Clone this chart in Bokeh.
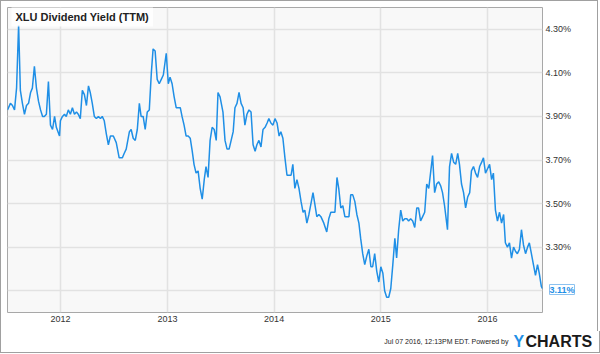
from datetime import datetime
import pandas as pd
from bokeh.plotting import figure
from bokeh.layouts import column
from bokeh.models import (ColumnDataSource, Range1d, FixedTicker, PrintfTickFormatter,
                          DatetimeTickFormatter, Label)
from bokeh.embed import file_html
from bokeh.resources import INLINE

title_text = "XLU Dividend Yield (TTM)"
last_label = "3.11%"
footer_text = "Jul 07 2016, 12:13PM EDT. Powered by"

dates = [
    "2011-07-04", "2011-07-14", "2011-07-21", "2011-07-28", "2011-08-04", "2011-08-11", "2011-08-17",
    "2011-08-24", "2011-08-31", "2011-09-07", "2011-09-14", "2011-09-21", "2011-09-27", "2011-10-04",
    "2011-10-11", "2011-10-18", "2011-10-25", "2011-11-01", "2011-11-07", "2011-11-14", "2011-11-21",
    "2011-11-28", "2011-12-05", "2011-12-12", "2011-12-18", "2011-12-29",
    "2012-01-01", "2012-01-08", "2012-01-15", "2012-01-21", "2012-01-28", "2012-02-04", "2012-02-11",
    "2012-02-18", "2012-02-25", "2012-03-02", "2012-03-09", "2012-03-16", "2012-03-23", "2012-03-30",
    "2012-04-06", "2012-04-12", "2012-04-19", "2012-04-26", "2012-05-03", "2012-05-10", "2012-05-17",
    "2012-05-23", "2012-05-30", "2012-06-06", "2012-06-13", "2012-06-20", "2012-06-30", "2012-07-10",
    "2012-07-20", "2012-07-31", "2012-08-06", "2012-08-13", "2012-08-24", "2012-08-30", "2012-09-06",
    "2012-09-13", "2012-09-20", "2012-09-27", "2012-10-03", "2012-10-10", "2012-10-17", "2012-10-24",
    "2012-10-31", "2012-11-07", "2012-11-13", "2012-11-20", "2012-11-27", "2012-12-04", "2012-12-11",
    "2012-12-18", "2012-12-28",
    "2013-01-04", "2013-01-10", "2013-01-17", "2013-01-24", "2013-01-31", "2013-02-07", "2013-02-14",
    "2013-02-20", "2013-02-27", "2013-03-06", "2013-03-13", "2013-03-20", "2013-03-27", "2013-04-02",
    "2013-04-09", "2013-04-16", "2013-04-23", "2013-04-30", "2013-05-07", "2013-05-13", "2013-05-20",
    "2013-05-27", "2013-06-03", "2013-06-10", "2013-06-17", "2013-06-23", "2013-06-30", "2013-07-10",
    "2013-07-17", "2013-07-24", "2013-07-31", "2013-08-07", "2013-08-14", "2013-08-20", "2013-08-27",
    "2013-09-03", "2013-09-10", "2013-09-17", "2013-09-23", "2013-09-30", "2013-10-07", "2013-10-14",
    "2013-10-21", "2013-10-28", "2013-11-03", "2013-11-10", "2013-11-17", "2013-11-24", "2013-12-01",
    "2013-12-08", "2013-12-14", "2013-12-21", "2013-12-28",
    "2014-01-04", "2014-01-11", "2014-01-18", "2014-01-24", "2014-01-31", "2014-02-07", "2014-02-14",
    "2014-02-21", "2014-02-28", "2014-03-06", "2014-03-13", "2014-03-20", "2014-03-27", "2014-04-03",
    "2014-04-10", "2014-04-16", "2014-04-23", "2014-04-30", "2014-05-07", "2014-05-14", "2014-05-20",
    "2014-05-27", "2014-06-03", "2014-06-10", "2014-06-20", "2014-06-30", "2014-07-07", "2014-07-14",
    "2014-07-21", "2014-07-28", "2014-08-04", "2014-08-10", "2014-08-17", "2014-08-24", "2014-08-31",
    "2014-09-07", "2014-09-14", "2014-09-20", "2014-09-27", "2014-10-04", "2014-10-11", "2014-10-18",
    "2014-10-24", "2014-10-31", "2014-11-07", "2014-11-14", "2014-11-21", "2014-11-28", "2014-12-04",
    "2014-12-11", "2014-12-18", "2014-12-25",
    "2015-01-01", "2015-01-08", "2015-01-14", "2015-01-21", "2015-01-28", "2015-02-04", "2015-02-11",
    "2015-02-18", "2015-02-24", "2015-03-03", "2015-03-10", "2015-03-17", "2015-03-24", "2015-03-31",
    "2015-04-06", "2015-04-13", "2015-04-20", "2015-04-27", "2015-05-04", "2015-05-10", "2015-05-17",
    "2015-05-24", "2015-05-31", "2015-06-07", "2015-06-14", "2015-06-20", "2015-06-27", "2015-07-04",
    "2015-07-11", "2015-07-18", "2015-07-25", "2015-07-31", "2015-08-07", "2015-08-17", "2015-08-24",
    "2015-08-31", "2015-09-07", "2015-09-14", "2015-09-21", "2015-09-27", "2015-10-04", "2015-10-11",
    "2015-10-18", "2015-10-25", "2015-11-01", "2015-11-07", "2015-11-14", "2015-11-21", "2015-11-28",
    "2015-12-05", "2015-12-12", "2015-12-18", "2015-12-25",
    "2016-01-01", "2016-01-08", "2016-01-15", "2016-01-21", "2016-01-28", "2016-02-04", "2016-02-11",
    "2016-02-18", "2016-02-25", "2016-03-02", "2016-03-09", "2016-03-16", "2016-03-23", "2016-03-30",
    "2016-04-06", "2016-04-12", "2016-04-19", "2016-04-26", "2016-05-03", "2016-05-10", "2016-05-17",
    "2016-05-23", "2016-05-30", "2016-06-06", "2016-06-13", "2016-06-20", "2016-06-26", "2016-07-03",
    "2016-07-07",
]

yields = [
    3.93, 3.96, 3.95, 3.93, 4.03, 4.32, 4.02, 3.96, 3.91, 3.95, 3.96, 4.01, 4.03, 4.13,
    4.03, 3.97, 3.93, 3.90, 3.90, 3.91, 4.06, 3.86, 3.84, 3.90, 3.85, 3.81,
    3.88, 3.90, 3.91, 3.90, 3.93, 3.91, 3.94, 3.91, 3.92, 3.91, 3.89, 4.02, 4.00, 3.95,
    4.04, 4.01, 3.96, 3.90, 3.89, 3.90, 3.89, 3.90, 3.88, 3.82, 3.77, 3.81, 3.81, 3.78,
    3.71, 3.71, 3.73, 3.75, 3.83, 3.84, 3.80, 3.79, 3.84, 3.96, 3.90, 3.90, 3.84, 3.92,
    3.93, 4.10, 4.21, 4.20, 4.07, 4.05, 4.07, 4.09, 4.19,
    4.05, 4.08, 4.05, 3.99, 3.94, 3.94, 3.94, 3.90, 3.86, 3.81, 3.81, 3.80, 3.74, 3.68,
    3.64, 3.65, 3.57, 3.52, 3.61, 3.67, 3.62, 3.79, 3.85, 3.84, 3.79, 4.01, 3.99, 3.92,
    3.79, 3.75, 3.75, 3.79, 3.83, 3.94, 3.96, 4.01, 3.96, 3.94, 3.86, 3.91, 3.93, 3.92,
    3.77, 3.74, 3.77, 3.79, 3.76, 3.84, 3.85, 3.87, 3.89, 3.87, 3.86,
    3.89, 3.87, 3.81, 3.83, 3.80, 3.71, 3.63, 3.63, 3.63, 3.68, 3.57, 3.61, 3.57, 3.51,
    3.46, 3.47, 3.41, 3.45, 3.50, 3.55, 3.50, 3.44, 3.45, 3.44, 3.41, 3.37, 3.43, 3.46,
    3.46, 3.46, 3.62, 3.57, 3.48, 3.49, 3.44, 3.44, 3.44, 3.54, 3.54, 3.51, 3.45, 3.41,
    3.34, 3.27, 3.22, 3.26, 3.29, 3.21, 3.21, 3.27, 3.19, 3.14,
    3.21, 3.18, 3.10, 3.07, 3.07, 3.11, 3.22, 3.34, 3.25, 3.38, 3.47, 3.42, 3.43, 3.43,
    3.42, 3.43, 3.42, 3.39, 3.48, 3.48, 3.42, 3.44, 3.46, 3.59, 3.57, 3.64, 3.72, 3.55,
    3.59, 3.60, 3.58, 3.55, 3.49, 3.38, 3.67, 3.73, 3.69, 3.68, 3.73, 3.68, 3.59, 3.55,
    3.48, 3.53, 3.55, 3.65, 3.67, 3.64, 3.62, 3.67, 3.69, 3.71, 3.64,
    3.66, 3.68, 3.61, 3.64, 3.47, 3.42, 3.46, 3.41, 3.45, 3.32, 3.30, 3.32, 3.25, 3.30,
    3.28, 3.27, 3.29, 3.38, 3.31, 3.27, 3.30, 3.32, 3.27, 3.22, 3.17, 3.22, 3.18, 3.12,
    3.11,
]

y_label_ticks = [3.30, 3.50, 3.70, 3.90, 4.10, 4.30]
y_grid_ticks = [3.10, 3.30, 3.50, 3.70, 3.90, 4.10, 4.30]
year_ticks = [2012, 2013, 2014, 2015, 2016]

FONT = "Liberation Sans"
BLUE = "#1f8fe6"
EDGE = "#a0a0a0"

src = ColumnDataSource(data=dict(date=pd.to_datetime(dates), yld=yields))

x_start = datetime(2011, 7, 4)
x_end = datetime(2016, 7, 7)

# ---------------- main chart ----------------
p = figure(width=598, height=331, x_axis_type="datetime", y_axis_location="right",
           output_backend="svg", toolbar_location=None, title=None,
           x_range=Range1d(start=x_start, end=x_end), y_range=Range1d(3.0, 4.4),
           min_border_left=6, min_border_top=6, min_border_right=56, min_border_bottom=20)

p.stylesheets = [f":host {{ border-style: solid; border-color: {EDGE}; border-width: 1px 1px 0 1px; }}"]
p.background_fill_color = "#f8f8f8"
p.border_fill_color = "white"
p.outline_line_color = "#a8a8a8"
p.outline_line_width = 1

year_ms = [pd.Timestamp(f"{y}-01-01").value // 10**6 for y in year_ticks]

p.xaxis.ticker = FixedTicker(ticks=year_ms)
p.xaxis.formatter = DatetimeTickFormatter(
    microseconds="%Y", milliseconds="%Y", seconds="%Y", minsec="%Y", minutes="%Y",
    hourmin="%Y", hours="%Y", days="%Y", months="%Y", years="%Y")
p.xgrid.ticker = FixedTicker(ticks=year_ms)

p.yaxis.ticker = FixedTicker(ticks=y_label_ticks)
p.yaxis.formatter = PrintfTickFormatter(format="%.2f%%")
p.ygrid.ticker = FixedTicker(ticks=y_grid_ticks)

for ax in (p.xaxis[0], p.yaxis[0]):
    ax.axis_line_color = None
    ax.major_tick_line_color = None
    ax.minor_tick_line_color = None
    ax.major_tick_out = 0
    ax.major_tick_in = 0
    ax.minor_tick_out = 0
    ax.minor_tick_in = 0
    ax.major_label_text_font = FONT
    ax.major_label_text_font_size = "9px"
    ax.major_label_text_color = "#333333"
p.xaxis.major_label_standoff = 3
p.yaxis.major_label_standoff = 3

for g in (p.xgrid[0], p.ygrid[0]):
    g.grid_line_color = "#e2e2e2"
    g.grid_line_width = 1.5

p.line(x="date", y="yld", source=src, line_color=BLUE, line_width=1.5)

p.add_layout(Label(x=x_start, y=4.4, x_offset=4, y_offset=1, text=title_text,
                   text_font=FONT, text_font_size="11px", text_font_style="bold",
                   text_color="#222222", text_align="left", text_baseline="top",
                   background_fill_color="white", background_fill_alpha=0.85, padding=4))

# last-value flag: lives in the right side panel so that it is not clipped to the frame
p.add_layout(Label(x=547, y=287, x_units="canvas", y_units="canvas", text=last_label,
                   text_font=FONT, text_font_size="9px", text_font_style="bold",
                   text_color=BLUE, text_align="left", text_baseline="middle",
                   background_fill_color="white", border_line_color="#8cc2f0",
                   padding=0), "right")

# ---------------- footer strip ----------------
f = figure(frame_width=598, frame_height=21, output_backend="svg", toolbar_location=None,
           title=None, x_axis_location=None, y_axis_location=None, min_border=0,
           x_range=Range1d(0, 1), y_range=Range1d(0, 1))
f.stylesheets = [f":host {{ border-style: solid; border-color: {EDGE}; border-width: 0 1px 1px 1px; }}"]
f.outline_line_color = None
f.background_fill_color = "white"
f.border_fill_color = "white"
f.xgrid.visible = False
f.ygrid.visible = False

for fig in (p, f):
    if "frame_align" in fig.properties():
        fig.frame_align = False

f.add_layout(Label(x=507, y=12, x_units="screen", y_units="screen", text=footer_text,
                   text_font=FONT, text_font_size="7px", text_color="#222222",
                   text_align="right", text_baseline="middle"))
f.add_layout(Label(x=512, y=12, x_units="screen", y_units="screen", text="Y",
                   text_font=FONT, text_font_size="16px", text_font_style="bold",
                   text_color=BLUE, text_align="left", text_baseline="middle"))
f.add_layout(Label(x=524, y=12, x_units="screen", y_units="screen", text="CHARTS",
                   text_font=FONT, text_font_size="16px", text_font_style="bold",
                   text_color="#1a1a1a", text_align="left", text_baseline="middle"))

layout = column(p, f, spacing=0)
open("out.html", "w").write(file_html(layout, INLINE))
